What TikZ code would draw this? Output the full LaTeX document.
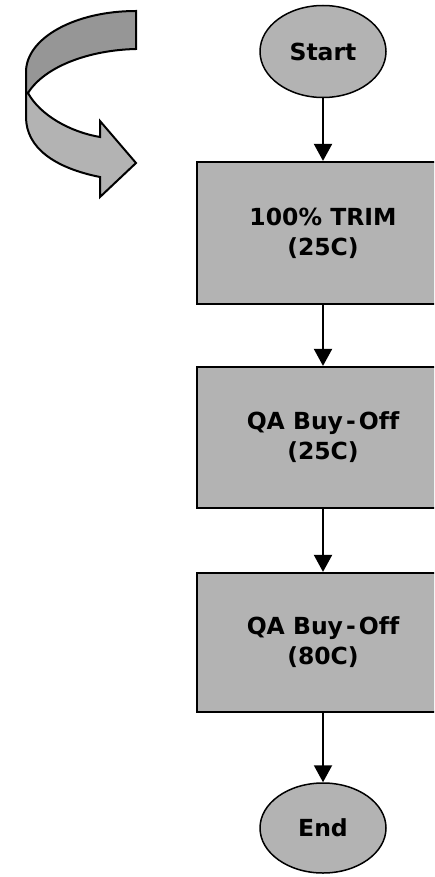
\documentclass[tikz,border=0pt]{standalone}
\usepackage{fontspec}
\setmainfont[Ligatures=NoCommon]{DejaVu Sans}
\usetikzlibrary{arrows.meta,shapes.geometric}
\definecolor{boxgray}{RGB}{179,179,179}
\definecolor{darkgray2}{RGB}{150,150,150}
\tikzset{
  every node/.style={font=\fontsize{23.5}{30}\selectfont\bfseries},
  terminal/.style={ellipse, draw=black, line width=1.5pt, fill=boxgray,
    minimum width=126pt, minimum height=92pt, inner sep=0pt},
  procbox/.style={rectangle, draw=black, line width=2.2pt, fill=boxgray,
    minimum width=252pt, align=center, inner sep=0pt},
  flow/.style={line width=2pt, -{Triangle[width=18pt,length=17pt]}},
  ribbon/.style={draw=black, line width=2pt, line join=miter}
}
\begin{document}
\begin{tikzpicture}[x=1pt,y=-1pt]
\clip (0,0) rectangle (434,877);
\fill[white] (0,0) rectangle (434,877);

% curved ribbon arrow
\coordinate (r1) at (136,11);
\coordinate (r2) at (136,49);
\coordinate (fold) at (28,93);
\coordinate (l1) at (26,72);
\coordinate (l2) at (26,117);
\coordinate (b1) at (100,137);
\coordinate (b2) at (100,177);
\coordinate (h1) at (100,121);
\coordinate (h2) at (100,197);
\coordinate (tip) at (136,163);
\filldraw[ribbon, fill=darkgray2] (r1) -- (r2)
  .. controls (90,50) and (45,66) .. (fold)
  -- (26,93) -- (l1)
  .. controls (26,38) and (75,11) .. (r1) -- cycle;
\filldraw[ribbon, fill=boxgray] (fold)
  .. controls (40,115) and (70,132) .. (b1)
  -- (h1) -- (tip) -- (h2) -- (b2)
  .. controls (55,168) and (26,148) .. (l2)
  -- (26,93) -- cycle;

% flowchart
\node[terminal] (start) at (323,51.5) {Start};
\node[procbox, minimum height=142pt] (trim) at (323,233) {100\% TRIM\\(25C)};
\node[procbox, minimum height=141pt] (qa1) at (323,437.5) {QA Buy\kern3pt-\kern3pt Off\\(25C)};
\node[procbox, minimum height=139pt] (qa2) at (323,642.5) {QA Buy\kern3pt-\kern3pt Off\\(80C)};
\node[terminal, minimum height=90pt] (end) at (323,828) {End};

\draw[flow] (start.south) -- (trim.north);
\draw[flow] (trim.south) -- (qa1.north);
\draw[flow] (qa1.south) -- (qa2.north);
\draw[flow] (qa2.south) -- (end.north);
\end{tikzpicture}
\end{document}
